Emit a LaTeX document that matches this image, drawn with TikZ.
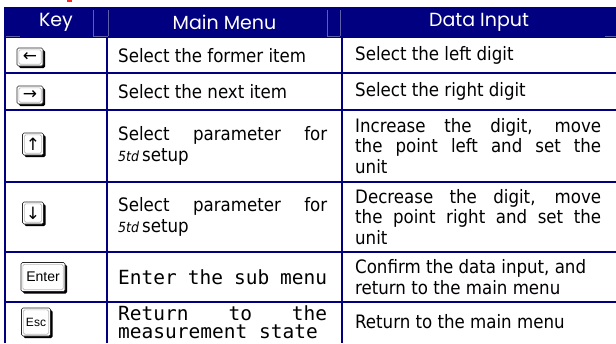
\documentclass[tikz,border=0pt]{standalone}
\usepackage{fontspec}
\setmainfont{DejaVu Sans Condensed}
\newfontfamily\hdrfont{Poppins}
\newfontfamily\monofont{DejaVu Sans Mono}
\newfontfamily\keyfont{Liberation Sans}
\newfontfamily\symfont{DejaVu Sans}
\usetikzlibrary{shadows}
\definecolor{navyc}{HTML}{000080}
\definecolor{faintc}{HTML}{6060A8}
\begin{document}
\begin{tikzpicture}[x=1pt,y=-1pt,
  grid/.style={draw=navyc,line width=2pt},
  faint/.style={draw=faintc,line width=0.5pt},
  hdr/.style={text=white,font=\hdrfont\fontsize{19}{22}\selectfont,inner sep=0},
  body/.style={anchor=west,inner sep=0,align=justify,font=\fontsize{18.5}{20.5}\selectfont},
  c2/.style={body,text width=209pt},
  c3/.style={body,text width=246pt},
  monotext/.style={font=\monofont\fontsize{19.5}{18}\selectfont},
  keycap/.style={draw=black!85,fill=white,rounded corners=1.5pt,inner sep=0,line width=0.7pt,
    drop shadow={shadow xshift=2pt,shadow yshift=-2pt,fill=black,opacity=1},
    path picture={\draw[gray!55,line width=0.6pt]
      ([xshift=1.8pt,yshift=-1.8pt]path picture bounding box.north west) rectangle
      ([xshift=-1.8pt,yshift=1.8pt]path picture bounding box.south east);}},
  arrowkey/.style={keycap,font=\symfont\fontsize{17}{17}\selectfont},
]
\useasboundingbox (0,0) rectangle (616,343);
% red fragment at top
\fill[red!85] (67,0) rectangle (72,1.8);
% header
\fill[navyc] (5,7) rectangle (616,38);
\draw[faint] (6,36) -- (20,36) (93,10) -- (93,36) (108,10) -- (108,36)
  (93,36) -- (108,36) (327,10) -- (327,36) (340,10) -- (340,36) (327,36) -- (340,36)
  (605,36) -- (616,36);
\node[hdr] (hkey) at (56,22) {Key};
\node[hdr] (hmain) at (224.5,22) {Main Menu};
\node[hdr] (hdata) at (479,22) {Data Input};
% grid
\draw[grid] (5,7) -- (5,343);
\draw[grid] (107,38) -- (107,343);
\draw[grid] (342,38) -- (342,343);
\foreach \yy in {73,110,182,252,302} \draw[grid] (4,\yy) -- (616,\yy);
% keys
\node[arrowkey,minimum width=26pt,minimum height=18pt] (kleft) at (30,57) {←};
\node[arrowkey,minimum width=26pt,minimum height=18pt] (kright) at (30,95) {→};
\node[arrowkey,minimum width=21pt,minimum height=22pt] (kup) at (33,144) {↑};
\node[arrowkey,minimum width=21pt,minimum height=22pt] (kdown) at (33,213) {↓};
\node[keycap,font=\keyfont\fontsize{14}{14}\selectfont,minimum width=44pt,minimum height=29pt] (kenter) at (43,277) {Enter};
\node[keycap,font=\keyfont\fontsize{12}{12}\selectfont,minimum width=29pt,minimum height=28pt] (kesc) at (36,322) {Esc};
% main menu column
\node[c2] (m1) at (118,55.5) {Select the former item};
\node[c2] (m2) at (118,91.5) {Select the next item};
\node[c2] (m3) at (118,146) {Select parameter for\linebreak {\itshape\fontsize{14}{14}\selectfont 5td}\,setup};
\node[c2] (m4) at (118,217) {Select parameter for\linebreak {\itshape\fontsize{14}{14}\selectfont 5td}\,setup};
\node[c2,monotext] (m5) at (118,277) {Enter the sub menu};
\node[c2,monotext] (m6) at (118,322) {Return to the\linebreak measurement state};
% data input column
\node[c3] (d1) at (355,55.5) {Select the left digit};
\node[c3] (d2) at (355,91.5) {Select the right digit};
\node[c3] (d3) at (355,146) {Increase the digit, move\linebreak the point left and set the\linebreak unit};
\node[c3] (d4) at (355,217) {Decrease the digit, move\linebreak the point right and set the\linebreak unit};
\node[c3] (d5) at (355,277) {Confirm the data input, and\\return to the main menu};
\node[c3] (d6) at (355,322) {Return to the main menu};
\end{tikzpicture}
\end{document}
